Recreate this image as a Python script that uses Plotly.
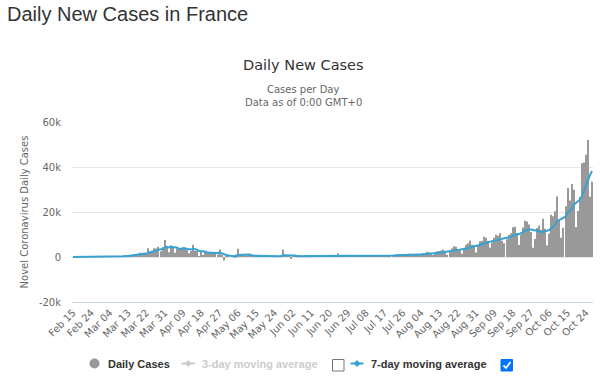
import pandas as pd
import plotly.graph_objects as go

# ---- data ----
feb = [0, 0, 0, 0, 0, 0, 0, 0, 0, 0, 2, 4, 20, 19, 43]
mar = [30, 61, 21, 73, 138, 190, 336, 177, 286, 372, 497, 595, 785, 838, 924, 1210, 1097,
       1404, 1861, 1617, 1847, 1559, 3838, 2446, 2931, 3922, 3809, 4611, 2599, 4376, 7578]
apr = [4861, 2116, 5233, 4267, 1873, 3912, 3777, 3881, 4286, 4342, 3114, 1613, 2673, 5497,
       2633, 2641, 405, 2569, 785, 2383, 2256, 1827, 1653, 1773, 1537, 1141, 3300, 500, -1500, 300]
may = [200, 0, 300, 500, 1100, 3640, 600, 1200, 600, 400, 600, 700, 300, 400, 500, 300, 250,
       400, 500, 450, 600, 400, 350, 300, 250, 300, 400, 3300, 200, 300, 250]
jun = [-700, 600, 700, 600, 500, 300, 400, 500, 500, 600, 500, 400, 300, 300, 400, 500, 500,
       400, 300, 300, 300, 500, 600, 1600, 400, 400, 300, 400, 500, 550]
jul = [562, 661, 582, 500, 400, 600, 483, 624, 637, 663, 500, 400, 600, 400, 498, 548, 702,
       600, 500, 800, 600, 998, 1062, 1130, 1000, 800, 900, 725, 1392, 1377, 1346]
aug = [1300, 900, 800, 1039, 1695, 1604, 2288, 2000, 1500, 800, 1397, 2524, 2669, 2846, 3310,
       2200, 1000, 2238, 3776, 4771, 4586, 3602, 3000, 1400, 3304, 5429, 6111, 7379, 5453, 4897, 1955]
sep = [4982, 7017, 7157, 8975, 8550, 7071, 4203, 6544, 8577, 9843, 9406, 10561, 7183, 6158,
       7852, 9784, 10593, 13215, 13498, 10569, 5298, 10008, 13072, 16096, 15797, 14412, 11123,
       4070, 8051, 12845]
oct_ = [13970, 12148, 16972, 12565, 5084, 10489, 18746, 18129, 20339, 26896, 16101, 8505,
        12993, 22591, 30621, 25086, 32427, 29837, 13243, 20468, 26676, 41622, 42032, 45422,
        52010, 26771, 33417]

daily_cases = feb + mar + apr + may + jun + jul + aug + sep + oct_
dates = pd.date_range("2020-02-15", periods=len(daily_cases), freq="D")
categories = [d.strftime("%b %d") for d in dates]
tick_labels = categories[::9]
moving_avg_7 = pd.Series(daily_cases).rolling(7, min_periods=1).mean().tolist()

y_ticks = [-20000, 0, 20000, 40000, 60000]
y_tick_text = ["-20k", "0", "20k", "40k", "60k"]

BAR = "#999999"
LINE = "#36a2d2"

# plot area in pixels
L, R, T, B = 72, 593, 122, 302


def px(x):
    return (x - L) / (R - L)


def py(y):
    return (B - y) / (B - T)


fig = go.Figure()
fig.add_bar(x=categories, y=daily_cases, marker_color=BAR, marker_line_width=0,
            name="Daily Cases")
fig.add_scatter(x=categories, y=moving_avg_7, mode="lines",
                line=dict(color=LINE, width=2), name="7-day moving average")

fig.update_layout(
    width=600, height=382,
    margin=dict(l=L, r=600 - R, t=T, b=382 - B, autoexpand=False),
    paper_bgcolor="white", plot_bgcolor="white",
    showlegend=False, bargap=0.5,
    font=dict(family="DejaVu Sans", color="#666666"),
    xaxis=dict(type="category", tickmode="array", tickvals=tick_labels, ticktext=tick_labels,
               tickangle=-45, tickfont=dict(size=10, color="#666666"), automargin=False,
               showgrid=False, showline=True, linecolor="#ccd6eb", linewidth=1,
               range=[-0.5, len(categories) - 0.5], ticks=""),
    yaxis=dict(range=[-20000, 60000], tickmode="array", tickvals=y_ticks, ticktext=y_tick_text,
               gridcolor="#e6e6e6", zeroline=False, showline=False, automargin=False,
               tickfont=dict(size=10, color="#666666"), ticklabelstandoff=10,
               title=dict(text="Novel Coronavirus Daily Cases", standoff=8,
                          font=dict(size=10, color="#666666"))),
)

annotations = [
    dict(text="Daily New Cases in France", x=px(5), y=py(14), xanchor="left", yanchor="middle",
         font=dict(family="Liberation Sans", size=20, color="#333333")),
    dict(text="Daily New Cases", x=px(303), y=py(65), xanchor="center", yanchor="middle",
         font=dict(family="DejaVu Sans", size=14.5, color="#333333")),
    dict(text="Cases per Day", x=px(303), y=py(89), xanchor="center", yanchor="middle",
         font=dict(family="DejaVu Sans", size=10, color="#666666")),
    dict(text="Data as of 0:00 GMT+0", x=px(303), y=py(102), xanchor="center", yanchor="middle",
         font=dict(family="DejaVu Sans", size=10, color="#666666")),
    dict(text="<b>Daily Cases</b>", x=px(106), y=py(363.5), xanchor="left", yanchor="middle",
         font=dict(family="Liberation Sans", size=11, color="#333333")),
    dict(text="<b>3-day moving average</b>", x=px(200), y=py(363.5), xanchor="left",
         yanchor="middle", font=dict(family="Liberation Sans", size=11, color="#cccccc")),
    dict(text="<b>7-day moving average</b>", x=px(368.5), y=py(363.5), xanchor="left",
         yanchor="middle", font=dict(family="Liberation Sans", size=11, color="#333333")),
]
for a in annotations:
    a.update(xref="paper", yref="paper", showarrow=False)
fig.update_layout(annotations=annotations)


def diamond(cx, cy, r):
    return (f"M {px(cx)},{py(cy - r)} L {px(cx + r)},{py(cy)} "
            f"L {px(cx)},{py(cy + r)} L {px(cx - r)},{py(cy)} Z")


shapes = [
    dict(type="circle", x0=px(89.5), x1=px(99.5), y0=py(368.5), y1=py(358.5),
         fillcolor="#999999", line=dict(width=0)),
    dict(type="line", x0=px(181.5), x1=px(195), y0=py(363.5), y1=py(363.5),
         line=dict(color="#cccccc", width=2)),
    dict(type="path", path=diamond(188.3, 363.5, 3.5), fillcolor="#cccccc", line=dict(width=0)),
    dict(type="rect", x0=px(332.5), x1=px(344), y0=py(371), y1=py(359.5),
         fillcolor="white", line=dict(color="#767676", width=1)),
    dict(type="line", x0=px(350.5), x1=px(363.5), y0=py(363.5), y1=py(363.5),
         line=dict(color=LINE, width=2)),
    dict(type="path", path=diamond(357, 363.5, 3.5), fillcolor=LINE, line=dict(width=0)),
    dict(type="rect", x0=px(501), x1=px(512.5), y0=py(371), y1=py(359.5),
         fillcolor="#0075ff", line=dict(color="#0075ff", width=1)),
    dict(type="path",
         path=f"M {px(503.5)},{py(365.5)} L {px(506)},{py(368)} L {px(510.5)},{py(362)}",
         line=dict(color="white", width=1.8)),
]
for s in shapes:
    s.update(xref="paper", yref="paper")
fig.update_layout(shapes=shapes)

fig.write_html("out.html", config={"displayModeBar": False},
               post_script="document.body.style.margin='0';document.body.style.overflow='hidden';")
